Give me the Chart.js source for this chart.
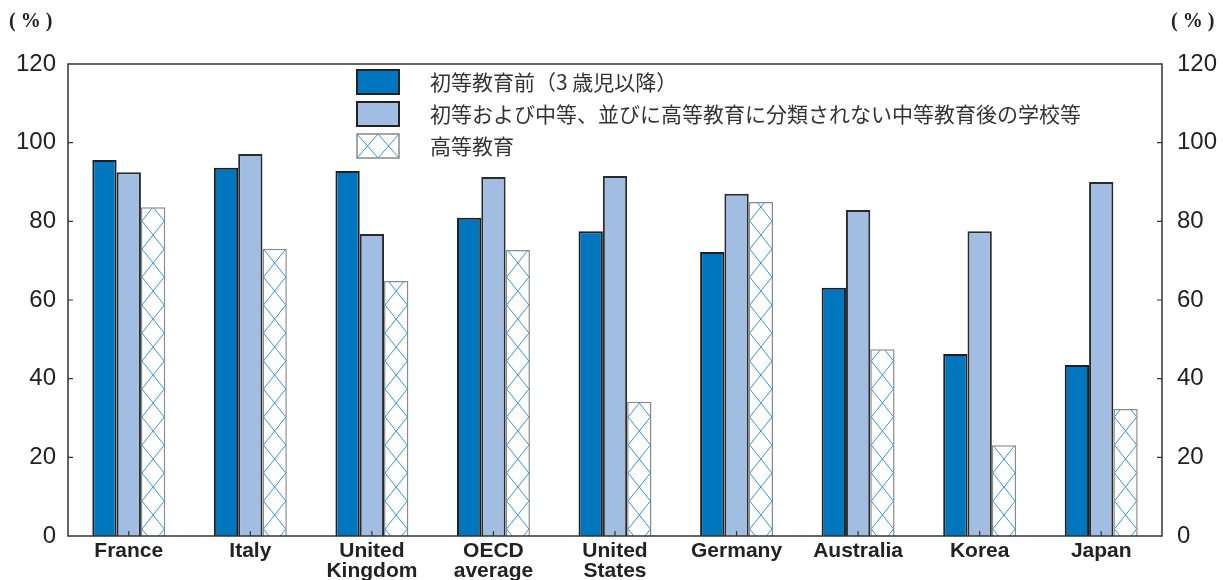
<!DOCTYPE html>
<html>
<head>
<meta charset="utf-8">
<script src="https://cdn.jsdelivr.net/npm/chart.js@4/dist/chart.umd.min.js"></script>
<style>
  html, body { margin: 0; padding: 0; background: #fff; }
  canvas { display: block; }
</style>
</head>
<body>
<canvas id="chart" width="1223" height="580"></canvas>
<script>
const countries = ['France', 'Italy', ['United', 'Kingdom'], ['OECD', 'average'], ['United', 'States'], 'Germany', 'Australia', 'Korea', 'Japan'];
const seriesNames = ['初等教育前（3 歳児以降）', '初等および中等、並びに高等教育に分類されない中等教育後の学校等', '高等教育'];
const prePrimary = [95.6, 93.6, 92.8, 80.9, 77.5, 72.2, 63.1, 46.3, 43.5];
const secondary = [92.5, 97.1, 76.8, 91.3, 91.5, 87.0, 82.9, 77.5, 90.0];
const tertiary = [83.6, 73.0, 64.8, 72.7, 34.1, 84.9, 47.5, 23.1, 32.3];
const yTicks = [0, 20, 40, 60, 80, 100, 120];

const DARK = 'rgb(0,118,190)';
const LIGHT = 'rgb(161,189,225)';
const HATCH = 'rgb(52,150,215)';

// draws the cross hatch inside a rect
function hatchRect(ctx, left, top, right, bottom, period, phaseY) {
    const w = right - left;
    ctx.save();
    ctx.beginPath();
    ctx.rect(left, top, w, bottom - top);
    ctx.clip();
    ctx.strokeStyle = HATCH;
    ctx.lineWidth = 1;
    ctx.beginPath();
    let start = phaseY;
    while (start < bottom + period) start += period;
    for (let y = start; y > top - period; y -= period) {
        ctx.moveTo(left, y);
        ctx.lineTo(right, y - period);
        ctx.moveTo(left, y - period);
        ctx.lineTo(right, y);
    }
    ctx.stroke();
    ctx.restore();
}

const hatchPlugin = {
    id: 'hatch',
    afterDatasetsDraw(chart) {
        const ctx = chart.ctx;
        const meta = chart.getDatasetMeta(2);
        const area = chart.chartArea;
        meta.data.forEach(bar => {
            const p = bar.getProps(['x', 'y', 'base', 'width'], true);
            const l = p.x - p.width / 2 + 1, r = p.x + p.width / 2 - 1;
            hatchRect(ctx, l, p.y + 1, r, p.base, 28, area.bottom - 7);
        });
    }
};

const framePlugin = {
    id: 'frame',
    afterDraw(chart) {
        const ctx = chart.ctx;
        const a = chart.chartArea;
        const y = chart.scales.y;
        const x = chart.scales.x;
        ctx.save();
        ctx.strokeStyle = '#333';
        ctx.lineWidth = 1.5;
        ctx.strokeRect(a.left, a.top, a.right - a.left, a.bottom - a.top);
        ctx.lineWidth = 1.2;
        ctx.beginPath();
        yTicks.forEach(v => {
            if (v === 0 || v === 120) return;
            const py = y.getPixelForValue(v);
            ctx.moveTo(a.left, py); ctx.lineTo(a.left + 5, py);
            ctx.moveTo(a.right, py); ctx.lineTo(a.right - 5, py);
        });
        countries.forEach((c, i) => {
            const px = x.getPixelForValue(i);
            ctx.moveTo(px, a.bottom); ctx.lineTo(px, a.bottom - 5);
        });
        ctx.stroke();

        // unit labels
        ctx.fillStyle = '#222';
        ctx.font = 'bold 20px "Liberation Serif"';
        ctx.textBaseline = 'middle';
        ctx.textAlign = 'left';
        ctx.fillText('( % )', 9, 22);
        ctx.fillText('( % )', 1171, 22);

        // legend
        const boxL = 357, boxW = 42, boxH = 24;
        const rows = [70, 102, 134];
        ctx.font = '21px "Noto Sans CJK JP"';
        rows.forEach((top, i) => {
            if (i < 2) {
                ctx.fillStyle = i === 0 ? DARK : LIGHT;
                ctx.fillRect(boxL, top, boxW, boxH);
            } else {
                ctx.fillStyle = '#fff';
                ctx.fillRect(boxL, top, boxW, boxH);
                hatchRect(ctx, boxL, top, boxL + boxW / 2, top + boxH, boxH, top);
                hatchRect(ctx, boxL + boxW / 2, top, boxL + boxW, top + boxH, boxH, top);
            }
            ctx.strokeStyle = i < 2 ? '#222' : '#888';
            ctx.lineWidth = i < 2 ? 2 : 1.5;
            ctx.strokeRect(boxL, top, boxW, boxH);
            ctx.fillStyle = '#333';
            ctx.fillText(seriesNames[i], 430, top + boxH / 2);
        });
        ctx.restore();
    }
};

const yAxis = (position, width, padding) => ({
    position: position,
    min: 0,
    max: 120,
    afterBuildTicks(scale) { scale.ticks = yTicks.map(v => ({ value: v })); },
    afterFit(scale) { scale.width = width; },
    grid: { display: false, drawTicks: false },
    border: { display: false },
    ticks: {
        padding: padding,
        color: '#222',
        font: { family: '"Liberation Sans", Arial, sans-serif', size: 24 }
    }
});

new Chart(document.getElementById('chart'), {
    type: 'bar',
    data: {
        labels: countries,
        datasets: [
            { label: seriesNames[0], data: prePrimary, backgroundColor: DARK, borderColor: '#1e1e1e', borderWidth: 2, yAxisID: 'y' },
            { label: seriesNames[1], data: secondary, backgroundColor: LIGHT, borderColor: '#2a2a2a', borderWidth: 2, yAxisID: 'y' },
            { label: seriesNames[2], data: tertiary, backgroundColor: '#fff', borderColor: '#8a8a8a', borderWidth: 1.5, yAxisID: 'y' }
        ]
    },
    options: {
        responsive: false,
        animation: false,
        layout: { padding: { top: 64, left: 0, right: 0, bottom: 0 } },
        datasets: { bar: { categoryPercentage: 0.6, barPercentage: 1.0 } },
        plugins: {
            legend: { display: false },
            tooltip: { enabled: false }
        },
        scales: {
            x: {
                afterFit(scale) { scale.height = 44; },
                grid: { display: false, drawTicks: false },
                border: { display: false },
                ticks: {
                    padding: 5,
                    color: '#222',
                    maxRotation: 0,
                    autoSkip: false,
                    font: { family: '"Liberation Sans", Arial, sans-serif', size: 21, weight: 'bold', lineHeight: 0.95 }
                }
            },
            y: yAxis('left', 68, 12),
            y2: yAxis('right', 61, 15)
        }
    },
    plugins: [hatchPlugin, framePlugin]
});
</script>
</body>
</html>
